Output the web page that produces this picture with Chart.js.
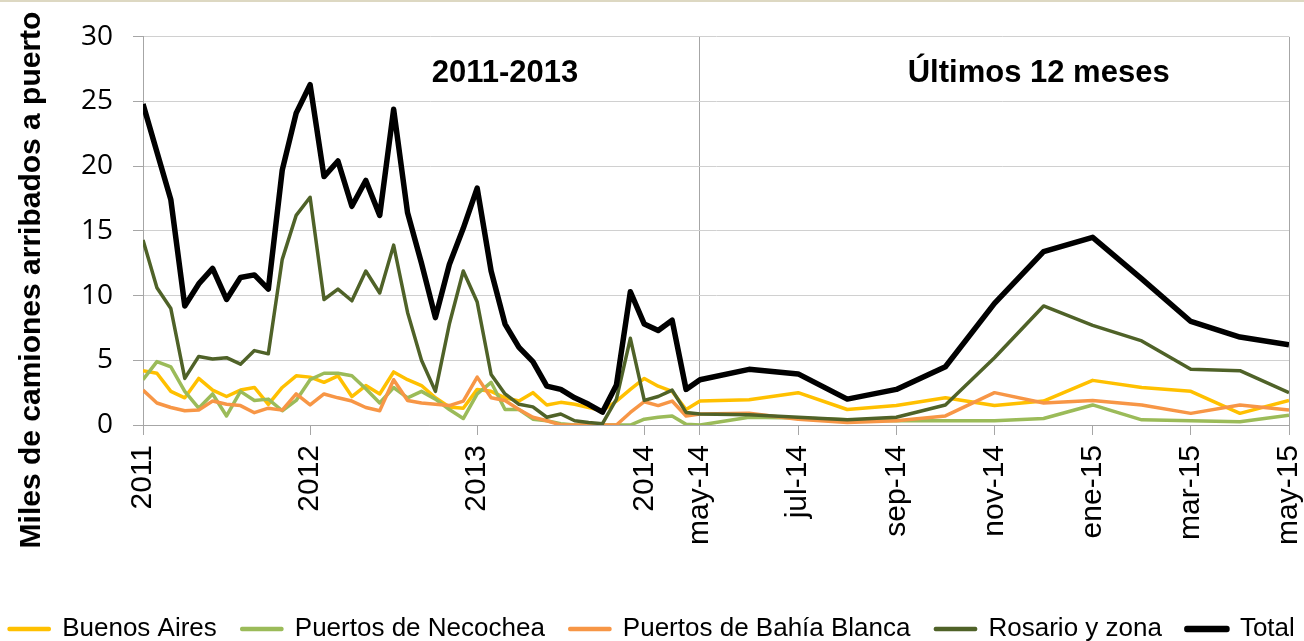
<!DOCTYPE html>
<html>
<head>
<meta charset="utf-8">
<script src="https://cdn.jsdelivr.net/npm/chart.js@4.4.1/dist/chart.umd.min.js"></script>
<style>
  html, body { margin: 0; padding: 0; background: #fff; }
  #wrap { width: 1304px; height: 641px; position: relative; }
</style>
</head>
<body>
<div id="wrap"><canvas id="myChart"></canvas></div>
<script>
// monthly values, jan-2011 .. apr-2014 (left block) then may-14 .. may-15 (last 12 months)
const buenosAires = [4.2, 4.0, 2.6, 2.1, 3.6, 2.7, 2.2, 2.7, 2.9, 1.6, 2.9, 3.8,
  3.7, 3.3, 3.8, 2.2, 3.05, 2.4, 4.1, 3.5, 3.05, 2.1, 1.4, 1.3,
  2.75, 2.6, 2.1, 1.85, 2.5, 1.55, 1.75, 1.6, 1.35, 1.1, 1.85, 2.75,
  3.6, 3.0, 2.6, 1.2,
  1.85, 1.95, 2.5, 1.2, 1.5, 2.1, 1.5, 1.85, 3.45, 2.9, 2.6, 0.9, 1.9];
const necochea = [3.5, 4.9, 4.5, 2.6, 1.3, 2.4, 0.7, 2.6, 1.9, 2.0, 1.1, 1.9,
  3.5, 4.0, 4.0, 3.8, 2.8, 1.7, 2.9, 2.1, 2.6, 2.0, 1.2, 0.5,
  2.4, 3.3, 1.2, 1.2, 0.45, 0.33, 0.1, 0, 0, 0, 0, 0,
  0.45, 0.6, 0.7, 0.05,
  0, 0.6, 0.55, 0.4, 0.33, 0.33, 0.33, 0.5, 1.55, 0.4, 0.33, 0.25, 0.75];
const bahiaBlanca = [2.7, 1.7, 1.35, 1.1, 1.15, 1.85, 1.6, 1.5, 0.95, 1.3, 1.15, 2.4,
  1.55, 2.4, 2.1, 1.85, 1.35, 1.1, 3.5, 1.9, 1.7, 1.6, 1.5, 1.85,
  3.7, 2.1, 1.9, 1.2, 0.6, 0.33, 0, 0, 0, 0, 0, 0.97,
  1.8, 1.5, 1.85, 0.7,
  0.85, 0.9, 0.45, 0.2, 0.33, 0.7, 2.5, 1.7, 1.9, 1.55, 0.9, 1.55, 1.15];
const rosario = [14.3, 10.6, 9.0, 3.6, 5.3, 5.1, 5.2, 4.7, 5.75, 5.5, 12.8, 16.2,
  17.6, 9.7, 10.5, 9.6, 11.9, 10.2, 13.9, 8.7, 5.0, 2.6, 7.8, 11.9,
  9.5, 3.9, 2.4, 1.6, 1.4, 0.6, 0.85, 0.33, 0.2, 0.1, 2.0, 6.7,
  1.9, 2.2, 2.7, 0.97,
  0.85, 0.8, 0.6, 0.4, 0.6, 1.55, 5.2, 9.2, 7.7, 6.5, 4.3, 4.2, 2.5];
const total = [24.8, 21.1, 17.4, 9.2, 10.9, 12.1, 9.7, 11.4, 11.6, 10.5, 19.7, 24.1,
  26.3, 19.2, 20.4, 16.9, 18.9, 16.2, 24.4, 16.4, 12.5, 8.3, 12.4, 15.2,
  18.3, 11.9, 7.8, 6.0, 4.9, 3.0, 2.75, 2.1, 1.6, 1.0, 3.1, 10.3,
  7.8, 7.3, 8.1, 2.75,
  3.5, 4.3, 3.95, 2.0, 2.75, 4.5, 9.4, 13.4, 14.5, 11.3, 8.0, 6.8, 6.2];

const seriesNames = ['Buenos Aires', 'Puertos de Necochea', 'Puertos de Bahía Blanca', 'Rosario y zona', 'Total'];
const yearTicks = ['2011', '2012', '2013', '2014'];
const monthTicks = ['may-14', 'jul-14', 'sep-14', 'nov-14', 'ene-15', 'mar-15', 'may-15'];
const sectionLabels = ['2011-2013', 'Últimos 12 meses'];
const yTitle = 'Miles de camiones arribados a puerto';

// the last-12-months block is drawn wider than the monthly history block
const SPLIT = 40;          // index of may-14
const RIGHT_STEP = 3.525;  // width of one month on the right, in left-month units
const xOf = k => k <= SPLIT ? k : SPLIT + (k - SPLIT) * RIGHT_STEP;

const tickIdx = yearTicks.map((_, i) => i * 12).concat(monthTicks.map((_, i) => SPLIT + i * 2));
const tickLabels = yearTicks.concat(monthTicks);

const PAD = { left: -20, right: -20, top: 32, bottom: -11 };
const PLOT_LEFT = 143, PLOT_BOTTOM = 425;

const colors = ['#FFC000', '#9BBB59', '#F79646', '#4F6228', '#000000'];
const widths = [3.5, 3.5, 3.5, 3.5, 5.5];
const allSeries = [buenosAires, necochea, bahiaBlanca, rosario, total];

const datasets = allSeries.map((vals, i) => ({
  label: seriesNames[i],
  data: vals.map((v, k) => ({ x: xOf(k), y: v })),
  borderColor: colors[i],
  backgroundColor: colors[i],
  borderWidth: widths[i],
  pointRadius: 0,
  tension: 0,
  borderJoinStyle: 'round',
  order: allSeries.length - i
}));

const decor = {
  id: 'decor',
  afterDraw(chart) {
    const { ctx, scales: { x, y } } = chart;
    ctx.save();
    ctx.fillStyle = '#ddd8c2';
    ctx.fillRect(0, 0, chart.width, 2);

    ctx.fillStyle = '#000';
    ctx.textAlign = 'center';
    ctx.textBaseline = 'middle';
    ctx.font = 'bold 31px "Liberation Sans"';
    const labelAt = [26, 46.9];
    sectionLabels.forEach((t, i) => {
      ctx.fillText(t, x.getPixelForValue(xOf(labelAt[i])), y.getPixelForValue(27.2));
    });

    ctx.translate(32, 280);
    ctx.rotate(-Math.PI / 2);
    ctx.font = 'bold 30px "Liberation Sans"';
    ctx.fillText(yTitle, 0, 0);
    ctx.restore();
  }
};

const ctx = document.getElementById('myChart');

new Chart(ctx, {
  type: 'line',
  data: { datasets },
  plugins: [decor],
  options: {
    responsive: true,
    maintainAspectRatio: false,
    animation: false,
    devicePixelRatio: 1,
    layout: { padding: PAD },
    plugins: {
      tooltip: { enabled: false },
      legend: {
        position: 'bottom',
        labels: {
          boxWidth: 40,
          boxHeight: 1,
          padding: 25,
          color: '#000',
          font: { family: '"Liberation Sans"', size: 26 },
          sort: (a, b) => a.datasetIndex - b.datasetIndex
        }
      }
    },
    scales: {
      x: {
        type: 'linear',
        min: 0,
        max: xOf(SPLIT + 12),
        afterBuildTicks: s => { s.ticks = tickIdx.map(k => ({ value: xOf(k) })); },
        afterFit: s => {
          s.paddingLeft = 0;
          s.paddingRight = 15;
          s.height = s.chart.height - PAD.bottom - s.chart.legend.height - PLOT_BOTTOM;
        },
        ticks: {
          autoSkip: false,
          minRotation: 90,
          maxRotation: 90,
          padding: 10,
          color: '#000',
          font: { family: '"Liberation Sans"', size: 30 },
          callback: (v, i) => tickLabels[i]
        },
        grid: {
          drawOnChartArea: true,
          tickLength: 10,
          tickColor: '#a6a6a6',
          color: c => (c.tick && (c.tick.value === xOf(SPLIT) || c.index === tickIdx.length - 1)) ? '#a6a6a6' : 'rgba(0,0,0,0)'
        },
        border: { color: '#a6a6a6', width: 1 }
      },
      y: {
        min: 0,
        max: 30,
        afterFit: s => { s.width = PLOT_LEFT - PAD.left; },
        ticks: {
          stepSize: 5,
          padding: 20,
          color: '#000',
          font: { family: '"Open Sans"', size: 28 }
        },
        grid: { color: '#d0d0d0', tickLength: 10, tickColor: '#a6a6a6' },
        border: { color: '#a6a6a6', width: 1 }
      }
    }
  }
});
</script>
</body>
</html>
